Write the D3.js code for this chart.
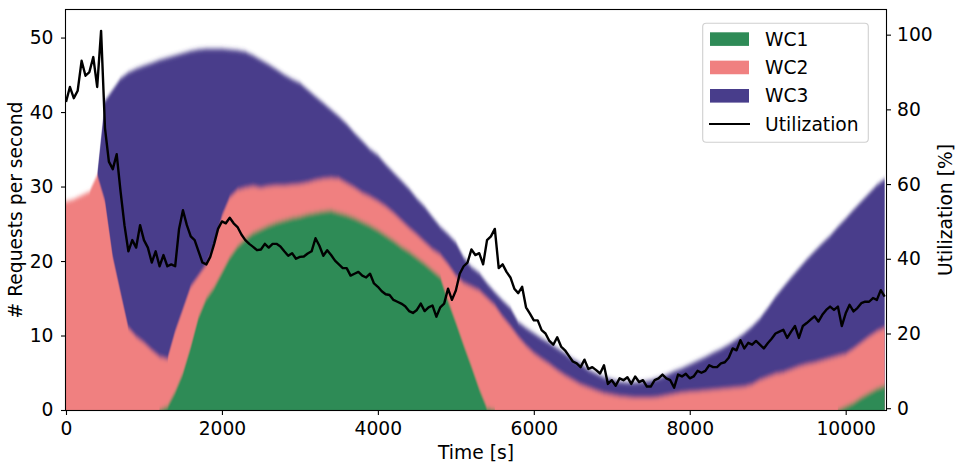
<!DOCTYPE html>
<html><head><meta charset="utf-8">
<script src="https://cdn.jsdelivr.net/npm/d3@7"></script>
<style>
body{margin:0;background:#fff;}
svg{display:block;font-family:"DejaVu Sans",sans-serif;}
</style></head><body>
<svg id="chart" width="960" height="466"></svg>
<script>
// ---- data ----
const times = d3.range(0, 10501, 100);
const wc1 = [0,0,0,0,0,0,0,0,0,0, 0,0,0,0.5,2.5,5,8.5,12.5,15,16.5,
  18.5,20.5,22,23,23.8,24.3,24.8,25.2,25.5,25.8, 26,26.3,26.5,26.7,26.8,26.5,26.2,25.8,25.3,24.8,
  24.2,23.5,22.8,22,21.3,20.5,19.7,18.8,17.9,14.7, 11.8,8.8,5.9,2.9,0.3,0,0,0,0,0,
  0,0,0,0,0,0,0,0,0,0, 0,0,0,0,0,0,0,0,0,0,
  0,0,0,0,0,0,0,0,0,0, 0,0,0,0,0,0,0,0,0,0,
  0.5,1,1.7,2.3,2.9,3.3];
const wc2 = [28,28.3,28.8,29.3,31.5,28,20.5,15.7,11,9.8, 9,8,7.1,6.3,8,8.5,8,5.5,4.5,5.5,
  7.5,8,7.5,6.8,6.2,5.5,5.2,4.9,4.6,4.4, 4.3,4.2,4.3,4.3,4.3,4.5,4.2,4,3.8,3.8,
  3.8,3.8,3.6,3.4,3.1,3,2.8,2.7,2.9,4.8, 6.2,8.2,10.6,13.1,14.7,14,12.5,11.2,9.8,8.6,
  7.6,6.8,6.1,5.3,4.6,4,3.4,3,2.6,2.2, 2,1.8,1.7,1.6,1.6,1.6,1.7,1.9,2.1,2.3,
  2.4,2.5,2.6,2.7,2.8,2.9,3,3.1,3.4,4, 4.4,4.8,5,5.4,5.8,6.1,6.3,6.6,6.9,7.2,
  7,7.2,7.3,7.5,7.6,7.7];
const wc3 = [0,0,0,0,0,13.5,22.5,28.8,34.3,36, 37.2,38.6,39.9,40.5,37.1,34.4,31.7,30.4,29,26.5,
  22.5,19.9,18.8,18.3,17.6,17.2,16.4,15.6,14.9,14.2, 13.6,12.5,11.3,10.2,9.2,8.4,8,7.4,7,6.4,
  6.2,5.7,5.5,5.4,5.3,4.9,4.8,4.4,3.8,4.1, 4.5,3.5,2.7,2.4,2,1.8,2.2,2.5,2,2.4,
  2.7,2.8,2.9,3,3,2.8,2.8,2.4,2.3,2.2, 2.1,2,2,2.1,2.2,2.4,2.6,2.8,3.1,3.3,
  3.7,4.1,4.5,5,5.4,5.9,6.5,7.2,7.8,8.3, 9.3,10.4,11.5,12.4,13.2,14.1,15,15.8,16.5,17.4,
  18.2,18.7,19,19.3,19.7,20];
const utilTimes = d3.range(0, 10501, 50);
const utilization = [82,86,83,85,93,89,90,94,86,101,75,66,64,68,58,49,42,45,43,49,45,
  43,39,42,38,41,38,38.5,38,48,53,49,46,45,42,39,38.5,40.5,44,48,50,
  49.5,51,49.5,48.5,46.5,45,44,43.2,42.3,42.5,44,43,44,44,43.3,42,40.8,41.5,40,40.5,
  40.6,41.4,42,45.5,43.5,40.8,42.3,41,39.5,38.5,37.5,37.5,35.5,36,36.5,35.5,35,36,33.4,32.5,
  31.3,30.5,30.3,29,28.5,28,27.3,26,25.5,26.3,28,26,27,27.5,24.5,27,28,32,29,31.5,
  36,38,39,42.5,41,41.5,38.5,45,46,48,37.5,38.5,36.5,35,32,30.8,32.5,27,25.3,23.5,
  23.5,20.9,20,18,17,19,16.5,15.5,14,12.5,12,11,13,10.5,11,10.2,9.3,11.5,6.5,7.5,
  6,8,7.5,8.3,6.5,8.5,7,7.5,5.8,5.8,7.5,8,9,8,7.5,5.5,9,8.5,9.2,8,
  8.5,10,9.5,10,11.5,11,11,12,12.3,13.5,16,15.5,18.2,16,17.5,17,18,17,16,17.4,
  18.6,20,20.5,21,18.8,20.5,22,18.8,22,22.8,23.7,24.6,23.2,25,26.3,27.2,26.3,27.2,22,25.4,
  27.7,25.9,26.8,28.1,28.5,28.5,29.5,29,31.6,29.9];
const seriesNames = ["WC1", "WC2", "WC3"];
const seriesColors = ["#2e8b57", "#f08080", "#483d8b"];
const xTicks = [0, 2000, 4000, 6000, 8000, 10000];
const yLeftTicks = [0, 10, 20, 30, 40, 50];
const yRightTicks = [0, 20, 40, 60, 80, 100];

// ---- layout ----
const L = 66, R = 886, T = 10, B = 410;
const FS = "18.7px";
const svg = d3.select("#chart");
const x = d3.scaleLinear().domain([0, 10517]).range([L, R]);
const y = d3.scaleLinear().domain([0, 53.7]).range([B, T]);
const yR = d3.scaleLinear().domain([-0.48, 106.6]).range([B, T]);

const defs = svg.append("defs");
defs.append("clipPath").attr("id", "plotclip")
  .append("rect").attr("x", L).attr("y", T).attr("width", R - L).attr("height", B - T);
const f = defs.append("filter").attr("id", "fuzz")
  .attr("x", "-5%").attr("y", "-10%").attr("width", "110%").attr("height", "120%");
f.append("feGaussianBlur").attr("stdDeviation", "0.6 2.6");

const rows = times.map((t, i) => ({t, WC1: wc1[i], WC2: wc2[i], WC3: wc3[i]}));
const stacked = d3.stack().keys(seriesNames)(rows);

const gArea = svg.append("g").attr("clip-path", "url(#plotclip)");
const layers = gArea.append("g").attr("filter", "url(#fuzz)");
// draw from the total downward so each lower layer overlays the one above it
for (let k = stacked.length - 1; k >= 0; k--) {
  const layer = stacked[k];
  const vals = layer.map(d => d[1] - d[0]);
  const area = d3.area()
    .defined((d, i) => vals[i] > 0 || (i > 0 && vals[i - 1] > 0) || (i < vals.length - 1 && vals[i + 1] > 0))
    .x(d => x(d.data.t))
    .y0(B + 14)
    .y1(d => y(d[1]));
  layers.append("path").datum(layer)
    .attr("fill", seriesColors[k])
    .attr("d", area);
}

// utilization line
const line = d3.line().x((d, i) => x(utilTimes[i])).y(d => yR(d));
gArea.append("path").datum(utilization)
  .attr("fill", "none").attr("stroke", "#000").attr("stroke-width", 2.4)
  .attr("stroke-linejoin", "round")
  .attr("d", line);

// frame
svg.append("rect").attr("x", L - 0.5).attr("y", T - 0.5)
  .attr("width", R - L + 1).attr("height", B - T + 1)
  .attr("fill", "none").attr("stroke", "#000").attr("stroke-width", 1.1);

// axes
function styleAxis(g) {
  g.select(".domain").remove();
  g.selectAll(".tick line").attr("stroke", "#000").attr("stroke-width", 1.1);
  g.selectAll(".tick text").attr("fill", "#000").style("font-size", FS)
    .style("font-family", '"DejaVu Sans", sans-serif');
}
svg.append("g").attr("transform", `translate(0,${B})`)
  .call(d3.axisBottom(x).tickValues(xTicks).tickFormat(d3.format("d")).tickSize(5).tickPadding(6.5))
  .call(styleAxis);
svg.append("g").attr("transform", `translate(${L},0)`)
  .call(d3.axisLeft(y).tickValues(yLeftTicks).tickFormat(d3.format("d")).tickSize(5).tickPadding(7.5))
  .call(styleAxis);
svg.append("g").attr("transform", `translate(${R},0)`)
  .call(d3.axisRight(yR).tickValues(yRightTicks).tickFormat(d3.format("d")).tickSize(5).tickPadding(6))
  .call(styleAxis);

// axis titles
svg.append("text").attr("transform", "translate(21.5,210) rotate(-90)")
  .attr("text-anchor", "middle").style("font-size", FS).text("# Requests per second");
svg.append("text").attr("x", 476).attr("y", 459)
  .attr("text-anchor", "middle").style("font-size", FS).text("Time [s]");
svg.append("text").attr("transform", "translate(952,210) rotate(-90)")
  .attr("text-anchor", "middle").style("font-size", FS).text("Utilization [%]");

// legend
const lg = svg.append("g");
lg.append("rect").attr("x", 702.7).attr("y", 23.3).attr("width", 165.6).attr("height", 119)
  .attr("rx", 3.5).attr("fill", "#fff").attr("fill-opacity", 0.8)
  .attr("stroke", "#d0d0d0").attr("stroke-width", 1.1);
const legendItems = seriesNames.concat(["Utilization"]);
legendItems.forEach((name, i) => {
  const base = 45.7 + i * 28.35;
  if (i < 3) {
    lg.append("rect").attr("x", 710).attr("y", base - 13.4).attr("width", 39).attr("height", 13.6)
      .attr("fill", seriesColors[i]);
  } else {
    lg.append("line").attr("x1", 709).attr("x2", 750).attr("y1", base - 6.8).attr("y2", base - 6.8)
      .attr("stroke", "#000").attr("stroke-width", 2.1);
  }
  lg.append("text").attr("x", 765).attr("y", base).style("font-size", FS).text(name);
});
</script>
</body></html>
